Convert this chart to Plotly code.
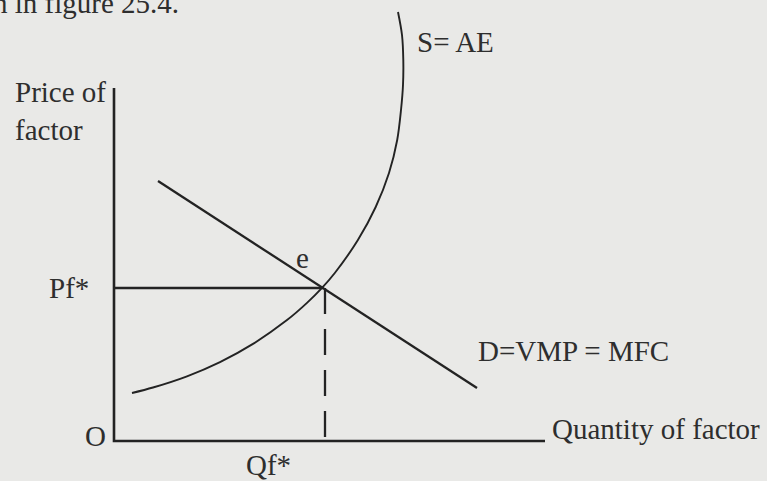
import plotly.graph_objects as go

# Diagram coordinates (origin O at the corner of the axes)
axis_x_end = 431
axis_y_end = 353

pf_star = 153          # equilibrium factor price
qf_star = 209          # equilibrium factor quantity

# Demand curve D = VMP = MFC (straight line)
demand_x = [44, 363]
demand_y = [260, 53]

# Supply curve S = AE
supply_x = [18, 39, 73, 106, 139, 173, 193, 208, 220.8, 243.9, 261.7, 275, 283.2, 287, 289, 289.3, 288, 284]
supply_y = [48, 53.5, 64.7, 78.9, 97.1, 120.9, 138.1, 153.1, 168, 201, 234, 268, 301, 331, 356, 381, 406, 429]

INK = "#232323"
TXT = "#2e2e2e"
BG = "#e9e9e7"
FONT = "Liberation Serif"

fig = go.Figure()

# axes
fig.add_trace(go.Scatter(x=[0, 0, axis_x_end], y=[axis_y_end, 0, 0], mode="lines",
                         line=dict(color=INK, width=2.6), hoverinfo="skip"))
# Pf* horizontal
fig.add_trace(go.Scatter(x=[0, qf_star], y=[pf_star, pf_star], mode="lines",
                         line=dict(color=INK, width=2.3), hoverinfo="skip"))
# Qf* dashed vertical
fig.add_trace(go.Scatter(x=[qf_star + 2, qf_star + 2], y=[pf_star, 0], mode="lines",
                         line=dict(color=INK, width=2.3, dash="26px,15px"), hoverinfo="skip"))
# demand
fig.add_trace(go.Scatter(x=demand_x, y=demand_y, mode="lines",
                         line=dict(color=INK, width=2.3), hoverinfo="skip"))
# supply
fig.add_trace(go.Scatter(x=supply_x, y=supply_y, mode="lines",
                         line=dict(color=INK, width=1.9, shape="spline", smoothing=0.9),
                         hoverinfo="skip"))

def label(text, x, y, xanchor="left", size=29):
    fig.add_annotation(x=x, y=y, text=text, showarrow=False, xanchor=xanchor, yanchor="middle",
                       font=dict(family=FONT, size=size, color=TXT))

label("n in figure 25.4.", 67, 438, xanchor="right")
label("Price of", -101, 349)
label("factor", -101, 311)
label("S= AE", 301, 399)
label("Pf*", -67, 153)
label("e", 188, 183, xanchor="center")
label("O", -31, 5)
label("Qf*", 154, -24, xanchor="center")
label("D=VMP = MFC", 362, 90)
label("Quantity of factor", 436, 12)

fig.update_layout(
    width=767, height=481,
    margin=dict(l=0, r=0, t=0, b=0),
    paper_bgcolor=BG, plot_bgcolor=BG,
    showlegend=False,
    xaxis=dict(range=[-114, 653], visible=False, fixedrange=True),
    yaxis=dict(range=[-40, 441], visible=False, fixedrange=True),
)

fig.write_html(
    "out.html",
    config={"displayModeBar": False},
    post_script="document.body.style.margin='0px';document.body.style.overflow='hidden';"
                "document.body.style.background='#e9e9e7';",
)
